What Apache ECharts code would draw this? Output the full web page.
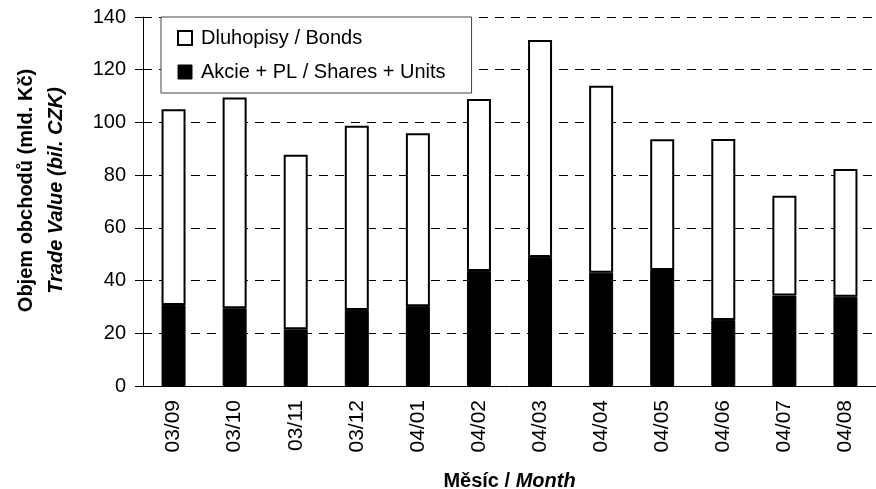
<!DOCTYPE html>
<html>
<head>
<meta charset="utf-8">
<script src="https://cdn.jsdelivr.net/npm/echarts@6/dist/echarts.min.js"></script>
<style>
  html, body { margin: 0; padding: 0; background: #fff; }
  #chart { width: 876px; height: 489px; }
</style>
</head>
<body>
<div id="chart"></div>
<script>
const months = ["03/09", "03/10", "03/11", "03/12", "04/01", "04/02", "04/03", "04/04", "04/05", "04/06", "04/07", "04/08"];
// Akcie + PL / Shares + Units
const shares = [30.7, 29.5, 21.5, 28.8, 30.3, 43.6, 48.9, 43.0, 44.0, 25.0, 34.3, 33.9];
// Dluhopisy / Bonds
const bonds = [74.3, 80.0, 66.2, 69.9, 65.6, 65.3, 82.4, 70.9, 49.6, 68.7, 37.9, 48.4];

const font = "Arial, 'Liberation Sans', sans-serif";
const myChart = echarts.init(document.getElementById("chart"));

const option = {
  animation: false,
  textStyle: { fontFamily: font, color: "#000" },
  grid: { left: 143, right: 0, top: 17, bottom: 103, outerBoundsMode: "none" },
  legend: {
    orient: "vertical",
    left: 161,
    top: 17,
    padding: [11, 26, 11, 16],
    itemGap: 14,
    itemWidth: 14,
    itemHeight: 14,
    icon: "rect",
    backgroundColor: "#fff",
    borderColor: "#444",
    borderWidth: 1,
    textStyle: { fontSize: 20, fontFamily: font, color: "#000", padding: [0, 0, 0, 4] },
    data: [
      { name: "Dluhopisy / Bonds", itemStyle: { color: "#fff", borderColor: "#000", borderWidth: 2 } },
      { name: "Akcie + PL / Shares + Units", itemStyle: { color: "#000", borderColor: "#000", borderWidth: 1 } },
    ],
  },
  xAxis: {
    type: "category",
    data: months,
    name: "{a|Měsíc / }{b|Month}",
    nameLocation: "middle",
    nameGap: 85,
    nameTextStyle: {
      rich: {
        a: { fontSize: 20, fontWeight: "bold", fontFamily: font },
        b: { fontSize: 20, fontWeight: "bold", fontStyle: "italic", fontFamily: font },
      },
    },
    axisLine: { lineStyle: { color: "#000", width: 1 } },
    axisTick: { length: 7, lineStyle: { color: "#000" } },
    axisLabel: { rotate: 90, fontSize: 21, margin: 14, color: "#000", fontFamily: font },
  },
  yAxis: {
    type: "value",
    min: 0,
    max: 140,
    interval: 20,
    name: "{a|Objem obchodů (mld. Kč)}\n{b|Trade Value (bil. CZK)}",
    nameLocation: "middle",
    nameRotate: 90,
    nameGap: 72,
    nameTextStyle: {
      padding: [0, 0, 0, 22],
      rich: {
        a: { fontSize: 20, fontWeight: "bold", fontFamily: font, lineHeight: 30 },
        b: { fontSize: 20, fontWeight: "bold", fontStyle: "italic", fontFamily: font, lineHeight: 30 },
      },
    },
    axisLine: { show: true, lineStyle: { color: "#000", width: 1 } },
    axisTick: { show: true, length: 8, lineStyle: { color: "#000" } },
    axisLabel: { fontSize: 20, margin: 17, color: "#000", fontFamily: font },
    splitLine: { show: true, lineStyle: { color: "#000", width: 1, type: [9, 7] } },
  },
  series: [
    {
      name: "Akcie + PL / Shares + Units",
      type: "bar",
      stack: "total",
      barWidth: 24,
      data: shares,
      itemStyle: { color: "#000", borderColor: "#000", borderWidth: 1 },
    },
    {
      name: "Dluhopisy / Bonds",
      type: "bar",
      stack: "total",
      barWidth: 24,
      data: bonds,
      itemStyle: { color: "#fff", borderColor: "#000", borderWidth: 2 },
    },
  ],
};

myChart.setOption(option);
</script>
</body>
</html>
